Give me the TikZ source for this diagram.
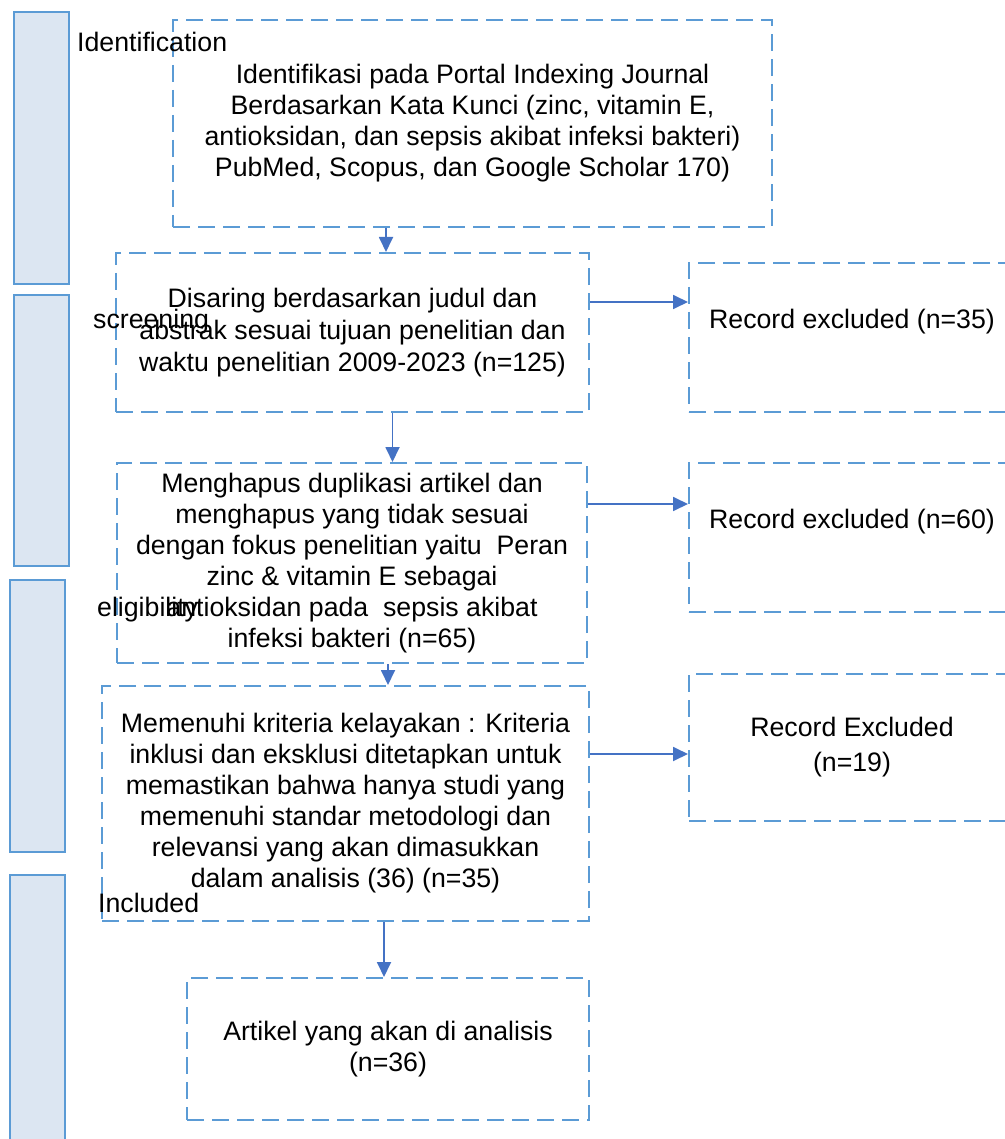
\documentclass[tikz,border=0pt]{standalone}
\usepackage{fontspec}
\setmainfont{Liberation Sans}
\usepackage{tikz}
\usetikzlibrary{arrows.meta,positioning}
\definecolor{boxblue}{HTML}{5B9BD5}
\definecolor{barfill}{HTML}{DCE6F2}
\definecolor{arrowblue}{HTML}{4472C4}

\begin{document}
\begin{tikzpicture}[x=1pt, y=-1pt,
    stage box/.style={rectangle, draw=boxblue, fill=barfill, line width=2pt, inner sep=0pt, minimum width=55pt, minimum height=272pt},
    stage label/.style={anchor=west, inner sep=0pt, font=\fontsize{26.7}{31}\selectfont},
    flow box/.style={rectangle, draw=boxblue, line width=2pt, dash pattern=on 17pt off 8pt, align=center, inner sep=0pt, font=\fontsize{26.7}{31}\selectfont},
    flow arrow/.style={draw=arrowblue, line width=1.8pt, -{Triangle[length=15pt,width=14pt]}}
]
\useasboundingbox (0,0) rectangle (1004,1139);

% stage bars on the left
\node[stage box] (ident bar) at (41.5,148) {};
\node[stage box, minimum height=271pt] (screen bar) at (41.5,430.5) {};
\node[stage box] (elig bar) at (37.5,716) {};
\node[stage box, minimum height=280pt] (incl bar) at (37.5,1015) {};

% flow boxes
\node[flow box, minimum width=599pt, minimum height=207pt] (search) at (472.5,123.5)
    {Identifikasi pada Portal Indexing Journal\\Berdasarkan Kata Kunci (zinc, vitamin E,\\antioksidan, dan sepsis akibat infeksi bakteri)\\PubMed, Scopus, dan Google Scholar 170)};
\node[flow box, minimum width=473pt, minimum height=159pt] (screened) at (352.5,332.5)
    {Disaring berdasarkan judul dan\\[1pt]abstrak sesuai tujuan penelitian dan\\[1pt]waktu penelitian 2009-2023 (n=125)};
\node[flow box, minimum width=470pt, minimum height=200pt] (dedup) at (352,563)
    {Menghapus duplikasi artikel dan\\menghapus yang tidak sesuai\\dengan fokus penelitian yaitu~ Peran\\zinc \& vitamin E sebagai\\antioksidan pada~ sepsis akibat\\infeksi bakteri (n=65)};
\node[flow box, minimum width=487pt, minimum height=235pt] (eligible) at (345.5,803.5)
    {Memenuhi kriteria kelayakan : Kriteria\\inklusi dan eksklusi ditetapkan untuk\\memastikan bahwa hanya studi yang\\memenuhi standar metodologi dan\\relevansi yang akan dimasukkan\\dalam analisis (36) (n=35)};
\node[flow box, minimum width=402pt, minimum height=142pt] (analysed) at (388,1049)
    {Artikel yang akan di analisis\\(n=36)};

% excluded records
\node[flow box, minimum width=326pt, minimum height=149pt, text height=19pt, text depth=37pt] (excl one) at (852,337.5)
    {Record excluded (n=35)};
\node[flow box, minimum width=326pt, minimum height=149pt, text height=19pt, text depth=37pt] (excl two) at (852,537.5)
    {Record excluded (n=60)};
\node[flow box, minimum width=326pt, minimum height=147pt] (excl three) at (852,747.5)
    {Record Excluded\\[4pt](n=19)};

% stage labels
\node[stage label] (ident label) at (77,42) {Identification};
\node[stage label] (screen label) at (93,322) {screening};
\node[stage label] (elig label) at (97,610) {eligibility};
\node[stage label] (incl label) at (98,903) {Included};

% arrows down
\draw[flow arrow] ([xshift=33.5pt]screened.north |- search.south) -- ([xshift=33.5pt]screened.north);
\draw[flow arrow] ([xshift=40pt]screened.south) -- ([xshift=40pt]screened.south |- dedup.north);
\draw[flow arrow] ([xshift=36pt]dedup.south) -- ([xshift=36pt]dedup.south |- eligible.north);
\draw[flow arrow] ([xshift=38.5pt]eligible.south) -- ([xshift=38.5pt]eligible.south |- analysed.north);

% arrows to the right
\draw[flow arrow] ([yshift=-50pt]screened.north east) -- ([yshift=-50pt]screened.north east -| excl one.west);
\draw[flow arrow] ([yshift=-42pt]dedup.north east) -- ([yshift=-42pt]dedup.north east -| excl two.west);
\draw[flow arrow] ([yshift=-69pt]eligible.north east) -- ([yshift=-69pt]eligible.north east -| excl three.west);
\end{tikzpicture}
\end{document}
